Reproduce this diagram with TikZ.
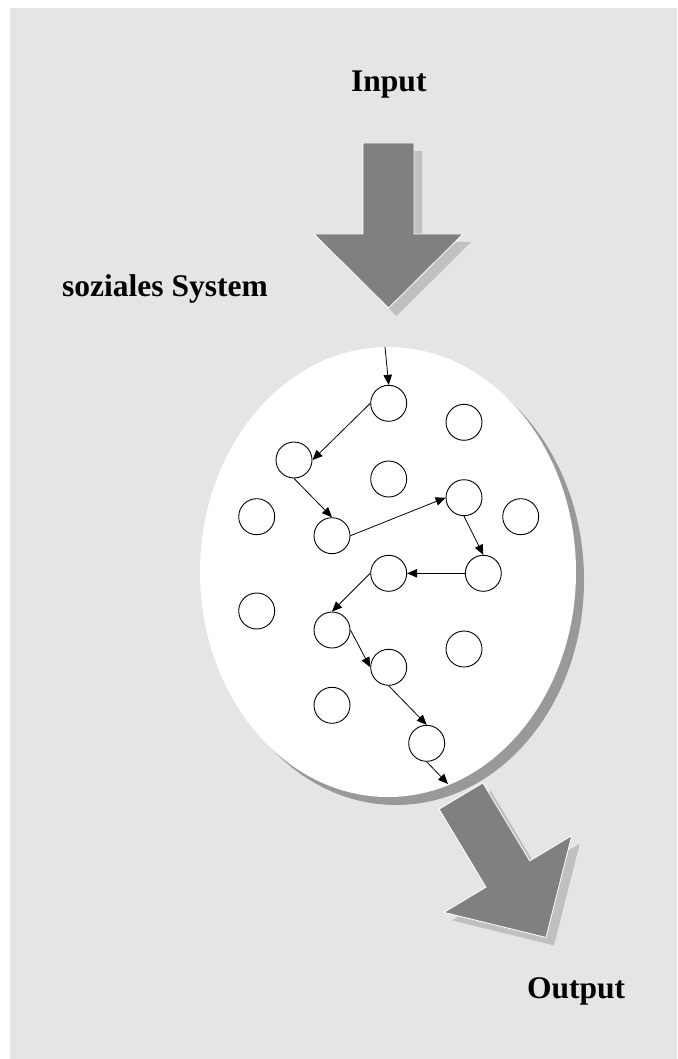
\documentclass[tikz,border=0pt]{standalone}
\usepackage{fontspec}
\setmainfont{Liberation Serif}
\usetikzlibrary{arrows.meta}

\definecolor{bggray}{HTML}{E5E5E5}
\definecolor{arrowgray}{HTML}{808080}
\definecolor{lightshadow}{HTML}{C0C0C0}
\definecolor{darkshadow}{HTML}{999999}

% Outline of the big block arrow, shaft top centre at the origin
\newcommand{\blockarrow}{(-25.5,0) -- (25.5,0) -- (25.5,91) -- (74.5,91) -- (0,165) -- (-74.5,91) -- (-25.5,91) -- cycle}

\begin{document}
\begin{tikzpicture}[x=1pt, y=-1pt,
		member/.style={circle, draw, line width=0.9pt, minimum size=36pt, inner sep=0pt, fill=white},
		flow/.style={-{Triangle[length=10pt, width=8.5pt]}, line width=0.8pt},
		title/.style={font=\fontsize{31.5}{38}\selectfont\bfseries, inner sep=0pt, anchor=base west}]
			% Background
			\useasboundingbox (0,0) rectangle (677,1059);
			\fill[bggray] (10,8) rectangle (677,1059);
			
			% Input arrow
			\begin{scope}[shift={(396.5,151)}]
				\fill[lightshadow] \blockarrow;
			\end{scope}
			\begin{scope}[shift={(388.5,143)}]
				\filldraw[fill=arrowgray, draw=white, line width=0.8pt] \blockarrow;
			\end{scope}
			
			% Output arrow
			\begin{scope}[shift={(469,804)}, rotate=31]
				\fill[lightshadow] \blockarrow;
			\end{scope}
			\begin{scope}[shift={(461,796)}, rotate=31]
				\filldraw[fill=arrowgray, draw=white, line width=0.8pt] \blockarrow;
			\end{scope}
			
			% The system
			\fill[darkshadow] (396,580) ellipse [x radius=188pt, y radius=225pt];
			\fill[white] (388,572) ellipse [x radius=188pt, y radius=225pt];
			
			% Define nodes
			\node[member] (c1) at (388.7,403.3) {};
			\node[member] (c2) at (464,422.3) {};
			\node[member] (c3) at (294,460) {};
			\node[member] (c4) at (388.7,479) {};
			\node[member] (c5) at (464,497.7) {};
			\node[member] (c6) at (256.7,516.7) {};
			\node[member] (c7) at (332,535.7) {};
			\node[member] (c8) at (520.7,516.7) {};
			\node[member] (c9) at (388.7,573.3) {};
			\node[member] (c10) at (483.3,573.3) {};
			\node[member] (c11) at (256.7,611) {};
			\node[member] (c12) at (332,630) {};
			\node[member] (c13) at (464,649) {};
			\node[member] (c14) at (388.7,667.3) {};
			\node[member] (c15) at (332,705.3) {};
			\node[member] (c16) at (426.7,743.3) {};
			\coordinate (in) at (385,347);
			\coordinate (out) at (448,784);
			
			% Connect nodes
			\draw[flow] (in) -- (c1.north);
			\draw[flow] (c1.west) -- (c3.east);
			\draw[flow] (c3.south) -- (c7.north);
			\draw[flow] (c7.east) -- (c5.west);
			\draw[flow] (c5.south) -- (c10.north);
			\draw[flow] (c10.west) -- (c9.east);
			\draw[flow] (c9.west) -- (c12.north);
			\draw[flow] (c12.east) -- (c14.west);
			\draw[flow] (c14.south) -- (c16.north);
			\draw[flow] (c16.south) -- (out);
			
			% Labels
			\node[title] (input) at (351,92) {Input};
			\node[title] (system) at (62,296) {soziales System};
			\node[title] (output) at (527,998) {Output};
		\end{tikzpicture}
\end{document}
